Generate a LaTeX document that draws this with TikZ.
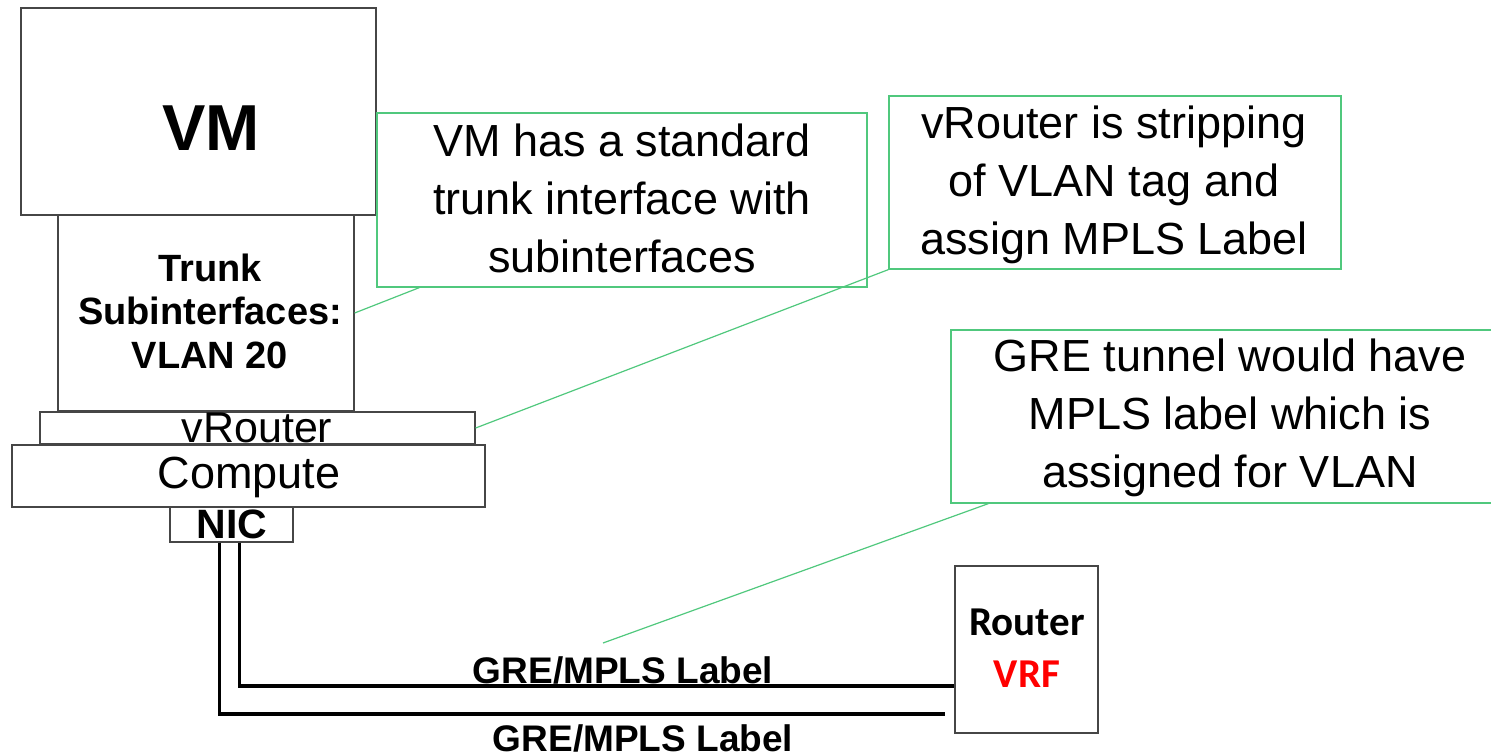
\documentclass[tikz,border=0pt]{standalone}
\usepackage{fontspec}
\setmainfont{Liberation Sans}
\newfontfamily\calibrifont{Carlito}
\usetikzlibrary{calc}
\definecolor{callgreen}{RGB}{80,200,125}
\definecolor{boxgray}{RGB}{70,70,70}
\definecolor{vrfred}{RGB}{255,0,0}
\tikzset{
  box/.style={draw=boxgray, line width=1.3pt, fill=white, inner sep=0pt},
  callout/.style={draw=callgreen, line width=1.2pt, fill=white, inner sep=0pt},
  leader/.style={draw=callgreen, line width=1.2pt},
  link/.style={draw=black, line width=3.2pt},
  txt/.style={inner sep=0pt, align=center},
  big/.style={font=\fontsize{45}{58}\selectfont},
}
\begin{document}
\begin{tikzpicture}[x=1pt,y=-1pt]
\useasboundingbox (0,0) rectangle (1491,755);

% host stack
\node[box, minimum width=355pt, minimum height=207pt] (vm) at (198.5,111.5) {};
\node[box, minimum width=296pt, minimum height=196pt] (trunk) at (206,313) {};
\node[box, minimum width=435pt, minimum height=32pt] (vrouter) at (257.5,428) {};
\node[box, minimum width=473pt, minimum height=62pt] (compute) at (248.5,476) {};
\node[box, minimum width=123pt, minimum height=35pt] (nic) at (231.5,524.5) {};

\node[txt, anchor=base, font=\bfseries\fontsize{65}{70}\selectfont] (vmtext) at (211,150) {VM};
\node[txt, font=\bfseries\fontsize{38}{43.5}\selectfont] (trunktext) at (210,311) {Trunk\\Subinterfaces:\\VLAN 20};
\node[txt, anchor=base, font=\fontsize{43}{50}\selectfont] (vroutertext) at (257,442) {vRouter};
\node[txt, anchor=base, font=\fontsize{45}{50}\selectfont] (computetext) at (249,488) {Compute};
\node[txt, anchor=base, font=\bfseries\fontsize{41}{45}\selectfont] (nictext) at (232,538) {NIC};

% remote router
\node[box, minimum width=143pt, minimum height=167pt] (router) at (1026.5,649.5) {};
\node[txt, anchor=base, font=\calibrifont\bfseries\fontsize{41}{45}\selectfont] (routertext) at (1027,635) {Router};
\node[txt, anchor=base, font=\calibrifont\bfseries\fontsize{41}{45}\selectfont, text=vrfred] (vrftext) at (1027,687) {VRF};

% tunnels
\coordinate (lowend) at (945,714);
\draw[link] ([xshift=70pt]nic.south west) |- ([yshift=-36.5pt]router.west);
\draw[link] ([xshift=50pt]nic.south west) |- (lowend);
\node[txt, anchor=base, font=\bfseries\fontsize{37}{40}\selectfont] (gre1) at (623,683) {GRE/MPLS Label};
\node[txt, anchor=base, font=\bfseries\fontsize{37}{40}\selectfont] (gre2) at (643,751) {GRE/MPLS Label};

% callouts
\node[callout, minimum width=490pt, minimum height=174pt] (c1) at (622,200) {};
\node[txt, big] (c1text) at (622,198.5) {VM has a standard\\trunk interface with\\subinterfaces};
\node[callout, minimum width=452pt, minimum height=173pt] (c2) at (1115,182.5) {};
\node[txt, big] (c2text) at (1114,185) {vRouter is stripping\\of VLAN tag and\\assign MPLS Label};
\node[callout, minimum width=558pt, minimum height=173pt] (c3) at (1230,416.5) {};
\node[txt, big] (c3text) at (1230,418) {GRE tunnel would have\\MPLS label which is\\assigned for VLAN};

% leader lines
\coordinate (c3tip) at (603,643);
\draw[leader] ([xshift=43pt]c1.south west) -- (trunk.east);
\draw[leader] (c2.south west) -- (vrouter.east);
\draw[leader] ([xshift=38pt]c3.south west) -- (c3tip);
\end{tikzpicture}
\end{document}
